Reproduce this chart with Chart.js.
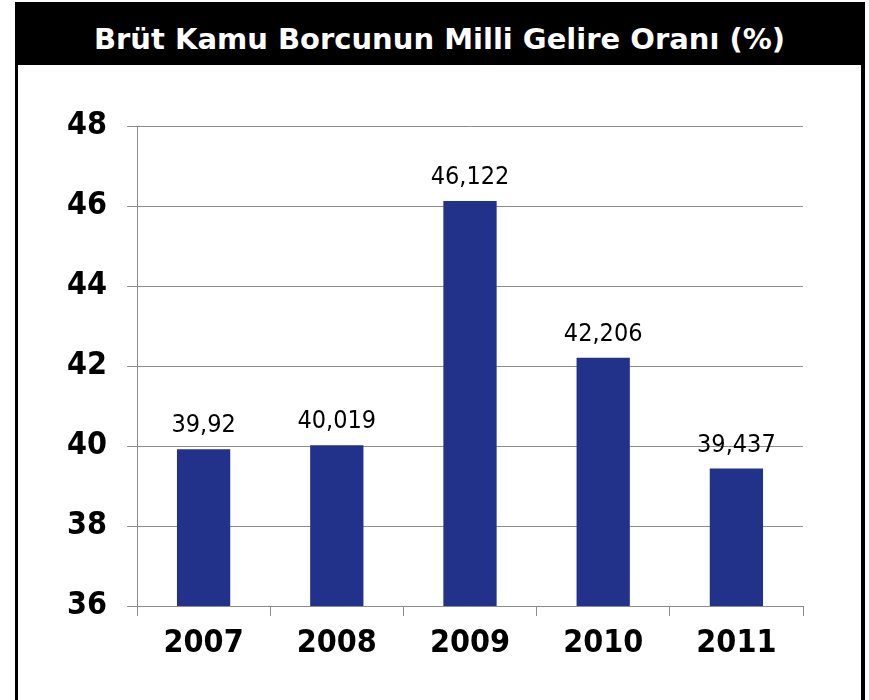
<!DOCTYPE html>
<html>
<head>
<meta charset="utf-8">
<script src="https://cdn.jsdelivr.net/npm/chart.js@4/dist/chart.umd.min.js"></script>
<style>
  html, body { margin:0; padding:0; background:#fff; width:869px; height:700px; overflow:hidden; }
  #frame { position:absolute; left:15px; top:2px; width:850px; height:760px; border:3px solid #000; border-right-width:4px; box-sizing:border-box; }
  #title { position:absolute; left:0; top:0; right:0; height:60px; background:#000; color:#fff;
           font-family:"DejaVu Sans",sans-serif; font-weight:bold; font-size:29px;
           text-align:center; line-height:68px; white-space:nowrap; }
  #wrap { position:absolute; left:0; top:0; width:869px; height:700px; }
</style>
</head>
<body>
<div id="frame"><div id="title">Brüt Kamu Borcunun Milli Gelire Oranı (%)</div></div>
<div id="wrap"><canvas id="c" width="869" height="700"></canvas></div>
<script>
const categories = ["2007", "2008", "2009", "2010", "2011"];
const values = [39.92, 40.019, 46.122, 42.206, 39.437];
const yTicks = [36, 38, 40, 42, 44, 46, 48];

const FONT = '"DejaVu Sans Condensed","DejaVu Sans",sans-serif';

const labelPlugin = {
  id: 'barLabels',
  afterDatasetsDraw(chart) {
    const ctx = chart.ctx;
    const meta = chart.getDatasetMeta(0);
    ctx.save();
    ctx.font = '25px ' + FONT;
    ctx.fillStyle = '#000';
    ctx.textAlign = 'center';
    ctx.textBaseline = 'alphabetic';
    meta.data.forEach((bar, i) => {
      const txt = String(values[i]).replace('.', ',');
      ctx.fillText(txt, bar.x, bar.y - 17);
    });
    ctx.restore();
  }
};

new Chart(document.getElementById('c'), {
  type: 'bar',
  data: {
    labels: categories,
    datasets: [{
      data: values,
      backgroundColor: '#22318A',
      borderWidth: 0,
      barPercentage: 0.4,
      categoryPercentage: 1.0
    }]
  },
  options: {
    responsive: false,
    animation: false,
    devicePixelRatio: 1,
    layout: { padding: { left: 0, right: 66, top: 126, bottom: 0 } },
    plugins: { legend: { display: false }, tooltip: { enabled: false }, title: { display: false } },
    scales: {
      x: {
        afterFit(s) { s.height = 94; },
        grid: { display: true, drawOnChartArea: false, drawTicks: true, tickLength: 10, color: '#8c8c8c', lineWidth: 1 },
        border: { display: true, color: '#8c8c8c', width: 1 },
        ticks: { color: '#000', font: { family: FONT, size: 32, weight: 'bold' }, padding: 8 }
      },
      y: {
        min: 36, max: 48,
        afterFit(s) { s.width = 137; },
        afterBuildTicks(s) { s.ticks = yTicks.map(v => ({ value: v })); },
        grid: { color: '#8c8c8c', lineWidth: 1, tickLength: 10, drawTicks: true },
        border: { display: true, color: '#8c8c8c', width: 1 },
        ticks: { color: '#000', font: { family: FONT, size: 32, weight: 'bold' }, padding: 20 }
      }
    }
  },
  plugins: [labelPlugin]
});
</script>
</body>
</html>
